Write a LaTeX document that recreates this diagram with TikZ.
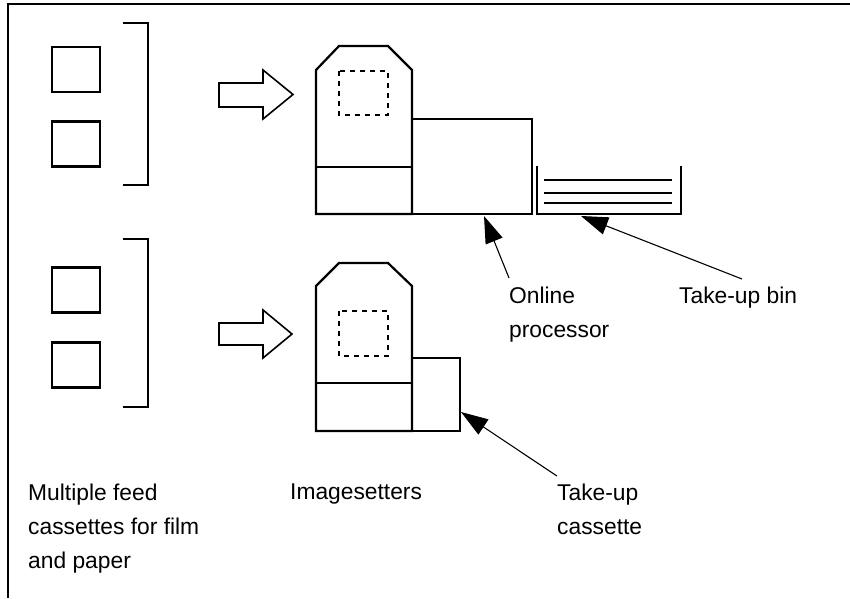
\documentclass[tikz,border=0pt]{standalone}
\usepackage{fontspec}
\setmainfont{Liberation Sans}
\usetikzlibrary{arrows.meta}
\begin{document}
\begin{tikzpicture}[x=1pt,y=-1pt,
  part/.style={draw,line width=2.2pt,line join=miter},
  sq/.style={part,minimum width=48pt,minimum height=45pt,inner sep=0pt},
  blockarrow/.style={draw,line width=1.6pt,line join=miter},
  dashbox/.style={draw,line width=2pt,dash pattern=on 5pt off 5pt},
  lbl/.style={anchor=north west,inner sep=0pt,align=left,font=\fontsize{22.8}{34}\selectfont},
  pointer/.style={draw,line width=1.1pt,-{Triangle[length=27pt,width=18pt]}}]
\useasboundingbox (0,0) rectangle (850,598);
% frame
\draw[line width=1.4pt] (850,4) -- (8,4) -- (8,598);
% feed cassettes, group 1
\node[sq] (s1) at (76,69.5) {};
\node[sq] (s2) at (76,144) {};
\draw[part] (123,23) -- (148,23) -- (148,185) -- (123,185);
\draw[blockarrow] (219,83) -- (263,83) -- (263,70) -- (293,94.5) -- (263,119) -- (263,107) -- (219,107) -- cycle;
% feed cassettes, group 2
\node[sq] (s3) at (76,290) {};
\node[sq] (s4) at (76,365) {};
\draw[part] (123,239) -- (148,239) -- (148,407) -- (123,407);
\draw[blockarrow] (219,323) -- (263,323) -- (263,310) -- (292,334) -- (263,358) -- (263,345) -- (219,345) -- cycle;
% imagesetter 1 with online processor and bin
\draw[part] (316,214) -- (316,70) -- (339,46) -- (388,46) -- (412,70) -- (412,214) -- cycle;
\draw[part] (316,167) -- (412,167);
\draw[dashbox] (339,71) rectangle (388,115);
\draw[part] (412,119) rectangle (532,214);
\coordinate (proc) at (484,216);
\draw[part] (537,166) -- (537,214) -- (681,214) -- (681,166);
\draw[part] (544,180) -- (672,180);
\draw[part] (544,193) -- (672,193);
\draw[part] (544,203) -- (672,203);
\coordinate (bin) at (581,216);
% imagesetter 2 with take-up cassette
\draw[part] (316,431) -- (316,286) -- (339,263) -- (388,263) -- (412,286) -- (412,431) -- cycle;
\draw[part] (316,383) -- (412,383);
\draw[dashbox] (339,311) rectangle (388,356);
\draw[part] (412,358) rectangle (460,431);
\coordinate (cass) at (461,412);
% labels
\node[lbl] (lfeed) at (28,484) {Multiple feed\\cassettes for film\\and paper};
\node[lbl] (limg) at (290,484) {Imagesetters};
\node[lbl] (lcass) at (557,484) {Take-up\\cassette};
\node[lbl] (lproc) at (509,287) {Online\\processor};
\node[lbl] (lbin) at (679,287) {Take-up bin};
% pointers
\coordinate (tproc) at (509,278);
\coordinate (tbin) at (742,279);
\coordinate (tcass) at (557,476);
\draw[pointer] (tproc) -- (proc);
\draw[pointer] (tbin) -- (bin);
\draw[pointer] (tcass) -- (cass);
\end{tikzpicture}
\end{document}
